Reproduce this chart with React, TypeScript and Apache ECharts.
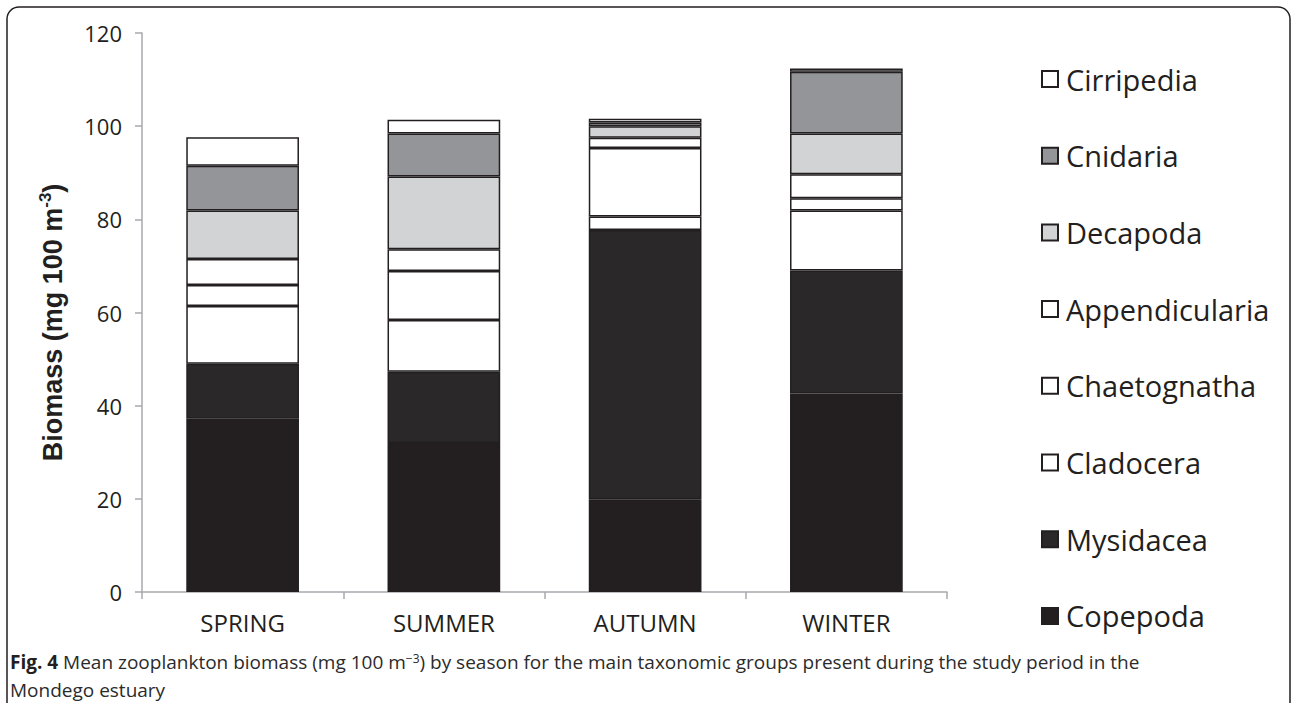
import React, { useEffect, useRef } from "react";
import * as echarts from "echarts";

const seasons = ["SPRING", "SUMMER", "AUTUMN", "WINTER"];
const yTicks = [0, 20, 40, 60, 80, 100, 120];

// stacked from bottom to top
const copepoda = [37.2, 32.0, 19.9, 42.6];
const mysidacea = [11.8, 15.3, 57.8, 26.4];
const cladocera = [12.4, 11.1, 2.9, 12.9];
const chaetognatha = [4.5, 10.5, 14.7, 2.6];
const appendicularia = [5.6, 4.7, 2.2, 5.2];
const decapoda = [10.4, 15.6, 2.5, 8.7];
const cnidaria = [9.6, 9.2, 0.8, 13.3];
const cirripedia = [6.1, 3.0, 0.8, 0.7];

const seriesNames = [
  "Copepoda",
  "Mysidacea",
  "Cladocera",
  "Chaetognatha",
  "Appendicularia",
  "Decapoda",
  "Cnidaria",
  "Cirripedia",
];
const seriesValues = [
  copepoda,
  mysidacea,
  cladocera,
  chaetognatha,
  appendicularia,
  decapoda,
  cnidaria,
  cirripedia,
];
const seriesColors = [
  "#231f20",
  "#2a2829",
  "#ffffff",
  "#ffffff",
  "#ffffff",
  "#d1d3d4",
  "#939598",
  "#ffffff",
];

const captionLine1 =
  "{b|Fig. 4} Mean zooplankton biomass (mg 100 m{sup|\u22123}) by season for the main taxonomic groups present during the study period in the";
const captionLine2 = "Mondego estuary";

export default function App() {
  const ref = useRef<HTMLDivElement>(null);

  useEffect(() => {
    if (!ref.current) return;
    const chart = echarts.init(ref.current, null, { renderer: "svg" });
    const ink = "#231f20";
    const axisGray = "#a7a9ac";
    const option: any = {
      animation: false,
      backgroundColor: "#ffffff",
      grid: { left: 142, right: 345, top: 33, bottom: 111, containLabel: false },
      legend: {
        orient: "vertical",
        left: 1036,
        top: 54,
        itemWidth: 16,
        itemHeight: 16,
        itemGap: 36.7,
        icon: "rect",
        data: seriesNames.slice().reverse(),
        textStyle: {
          fontFamily: "Open Sans",
          fontSize: 29,
          lineHeight: 40,
          color: ink,
          padding: [0, 0, 0, 3],
        },
      },
      xAxis: {
        type: "category",
        data: seasons,
        axisLine: { show: true, lineStyle: { color: axisGray, width: 1.5 } },
        axisTick: { show: true, length: 7, lineStyle: { color: axisGray, width: 1.5 } },
        axisLabel: {
          fontFamily: "Open Sans",
          fontSize: 24,
          color: ink,
          margin: 18,
        },
        splitLine: { show: false },
      },
      yAxis: {
        type: "value",
        min: yTicks[0],
        max: yTicks[yTicks.length - 1],
        interval: 20,
        name: "Biomass (mg 100 m{sup|-3})",
        nameLocation: "middle",
        nameRotate: 90,
        nameGap: 74,
        nameTextStyle: {
          fontFamily: "Liberation Sans",
          fontWeight: "bold",
          fontSize: 27,
          color: ink,
          lineHeight: 31,
          padding: [0, 20, 0, 0],
          rich: {
            sup: {
              fontFamily: "Liberation Sans",
              fontWeight: "bold",
              fontSize: 17,
              color: ink,
              verticalAlign: "top",
              lineHeight: 31,
            },
          },
        },
        axisLine: { show: true, lineStyle: { color: axisGray, width: 1.5 } },
        axisTick: { show: true, length: 7, lineStyle: { color: axisGray, width: 1.5 } },
        axisLabel: {
          fontFamily: "Open Sans",
          fontSize: 22,
          color: ink,
          margin: 20,
        },
        splitLine: { show: false },
      },
      series: seriesNames.map((name, i) => ({
        name,
        type: "bar",
        stack: "total",
        barWidth: "56%",
        data: seriesValues[i],
        itemStyle: {
          color: seriesColors[i],
          borderColor: ink,
          borderWidth: 1.5,
        },
        emphasis: { disabled: true },
      })),
      graphic: [
        {
          type: "rect",
          silent: true,
          shape: { x: 7, y: 7, width: 1283, height: 760, r: 12 },
          style: { fill: "none", stroke: ink, lineWidth: 1.5 },
        },
        {
          type: "text",
          x: 10,
          y: 662,
          style: {
            text: captionLine1,
            fontFamily: "Open Sans",
            fontSize: 19,
            fill: "#2b2b2b",
            verticalAlign: "middle",
            rich: {
              b: { fontFamily: "Open Sans", fontWeight: "bold", fontSize: 19, fill: ink },
              sup: { fontFamily: "Open Sans", fontSize: 12, fill: "#2b2b2b", verticalAlign: "top" },
            },
          },
        },
        {
          type: "text",
          x: 10,
          y: 690,
          style: {
            text: captionLine2,
            fontFamily: "Open Sans",
            fontSize: 19,
            fill: "#2b2b2b",
            verticalAlign: "middle",
          },
        },
      ],
    };
    chart.setOption(option);
    return () => chart.dispose();
  }, []);

  return (
    <div
      ref={ref}
      style={{ position: "fixed", left: 0, top: 0, width: 1292, height: 703, overflow: "hidden" }}
    />
  );
}
